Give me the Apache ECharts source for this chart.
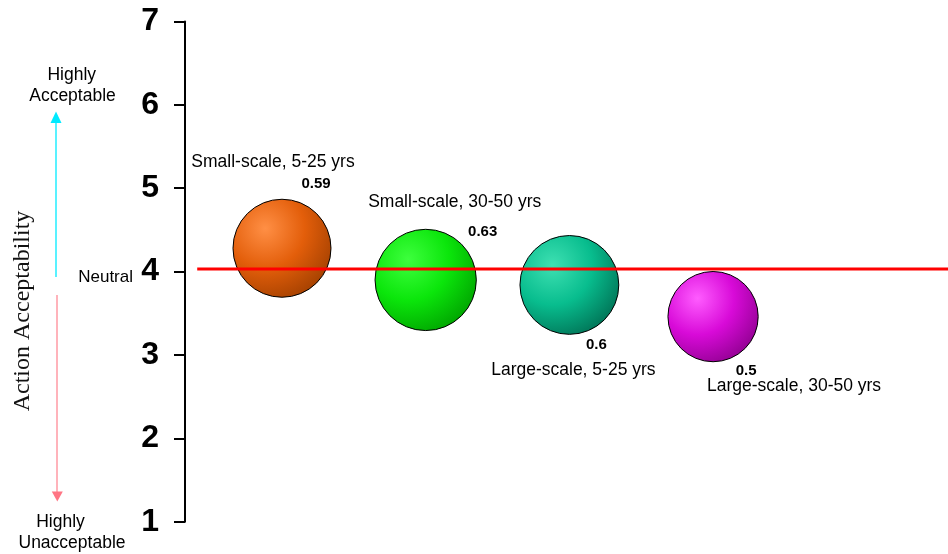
<!DOCTYPE html>
<html>
<head>
<meta charset="utf-8">
<style>
  html, body { margin: 0; padding: 0; background: #ffffff; }
  #chart { width: 948px; height: 554px; }
</style>
<script src="https://cdn.jsdelivr.net/npm/echarts@6/dist/echarts.min.js"></script>
</head>
<body>
<div id="chart"></div>
<script>
// Management options, their mean acceptability and spread (bubble size)
const categories = ['Small-scale, 5-25 yrs', 'Small-scale, 30-50 yrs', 'Large-scale, 5-25 yrs', 'Large-scale, 30-50 yrs'];
const xPositions = [1, 2, 3, 4];
const acceptability = [4.28, 3.90, 3.84, 3.46];
const spread = [0.59, 0.63, 0.60, 0.50];
const neutralLevel = 4.03;
const neutralSpan = [0.41, 5.635];
const yTicks = [1, 2, 3, 4, 5, 6, 7];

// Sphere shading per bubble: highlight, body, rim
const sphereColors = [
  ['#ff8f45', '#e35e0a', '#a03f00'],
  ['#3dff3d', '#0be60b', '#00a000'],
  ['#3ee0b2', '#08bd8e', '#006f53'],
  ['#ff5cff', '#d80ad8', '#8e008e']
];
// Where each option's name and value sit, relative to the bubble centre
const nameOffsets = [[-9, -86], [29, -78], [4, 85], [81, 70]];
const valueOffsets = [[34, -64], [57, -48], [27, 60], [33, 54]];

const sans = '"Liberation Sans", Arial, sans-serif';
const serif = '"Liberation Serif", "Times New Roman", serif';

const bubbleData = categories.map((name, i) => ({
  name: name,
  value: [xPositions[i], acceptability[i], spread[i]],
  itemStyle: {
    color: {
      type: 'radial', x: 0.33, y: 0.3, r: 0.8,
      colorStops: [
        { offset: 0, color: sphereColors[i][0] },
        { offset: 0.5, color: sphereColors[i][1] },
        { offset: 1, color: sphereColors[i][2] }
      ]
    }
  },
  label: { offset: valueOffsets[i] }
}));

const nameData = categories.map((name, i) => ({
  name: name,
  value: [xPositions[i], acceptability[i]],
  label: { offset: nameOffsets[i] }
}));

const chart = echarts.init(document.getElementById('chart'), null, { renderer: 'canvas' });

chart.setOption({
  animation: false,
  backgroundColor: '#ffffff',
  grid: { left: 185, right: 0, top: 21.5, bottom: 32.3, containLabel: false },
  xAxis: {
    type: 'value', min: 0.325, max: 5.635,
    show: false
  },
  yAxis: {
    type: 'value', min: yTicks[0], max: yTicks[yTicks.length - 1], interval: 1,
    axisLine: { show: true, lineStyle: { color: '#000', width: 2 } },
    axisTick: { show: true, length: 11, lineStyle: { color: '#000', width: 2 } },
    splitLine: { show: false },
    axisLabel: {
      margin: 26, color: '#000', fontFamily: sans, fontWeight: 'bold', fontSize: 32
    }
  },
  series: [
    {
      type: 'scatter',
      data: bubbleData,
      symbolSize: d => Math.sqrt(d[2]) * 127.6,
      itemStyle: { borderColor: '#000', borderWidth: 1, opacity: 1 },
      label: {
        show: true, position: 'inside',
        formatter: p => String(p.value[2]),
        fontFamily: sans, fontWeight: 'bold', fontSize: 15, color: '#000'
      },
      emphasis: { disabled: true },
      z: 2
    },
    {
      type: 'scatter',
      data: nameData,
      symbolSize: 0,
      itemStyle: { opacity: 1 },
      label: {
        show: true, position: 'inside',
        formatter: p => p.name,
        fontFamily: sans, fontSize: 17.5, color: '#000'
      },
      emphasis: { disabled: true },
      z: 4
    },
    {
      type: 'line',
      data: [[neutralSpan[0], neutralLevel], [neutralSpan[1], neutralLevel]],
      symbol: 'none',
      lineStyle: { color: '#ff0000', width: 3 },
      emphasis: { disabled: true },
      z: 3
    }
  ],
  graphic: [
    // vertical axis caption
    {
      type: 'text', x: 22.5, y: 311, rotation: Math.PI / 2,
      style: {
        text: 'Action Acceptability', font: '24px ' + serif, fill: '#111',
        textAlign: 'center', textVerticalAlign: 'middle'
      }
    },
    // scale anchors
    { type: 'text', x: 71.7, y: 75, style: { text: 'Highly', font: '17.5px ' + sans, fill: '#000', textAlign: 'center', textVerticalAlign: 'middle' } },
    { type: 'text', x: 72.5, y: 96, style: { text: 'Acceptable', font: '17.5px ' + sans, fill: '#000', textAlign: 'center', textVerticalAlign: 'middle' } },
    { type: 'text', x: 133, y: 277.5, style: { text: 'Neutral', font: '17px ' + sans, fill: '#000', textAlign: 'right', textVerticalAlign: 'middle' } },
    { type: 'text', x: 60.5, y: 522, style: { text: 'Highly', font: '17.5px ' + sans, fill: '#000', textAlign: 'center', textVerticalAlign: 'middle' } },
    { type: 'text', x: 72, y: 543.5, style: { text: 'Unacceptable', font: '17.5px ' + sans, fill: '#000', textAlign: 'center', textVerticalAlign: 'middle' } },
    // upward (acceptable) arrow
    { type: 'line', shape: { x1: 56, y1: 277, x2: 56, y2: 120 }, style: { stroke: '#22eeff', lineWidth: 1.5 } },
    { type: 'polygon', shape: { points: [[56, 111.5], [50.5, 123], [61.5, 123]] }, style: { fill: '#00eaff' } },
    // downward (unacceptable) arrow
    { type: 'line', shape: { x1: 57, y1: 295, x2: 57, y2: 493 }, style: { stroke: '#ff9aa4', lineWidth: 1.5 } },
    { type: 'polygon', shape: { points: [[57.3, 501.5], [51.8, 491.5], [62.8, 491.5]] }, style: { fill: '#ff7584' } }
  ]
});
</script>
</body>
</html>
